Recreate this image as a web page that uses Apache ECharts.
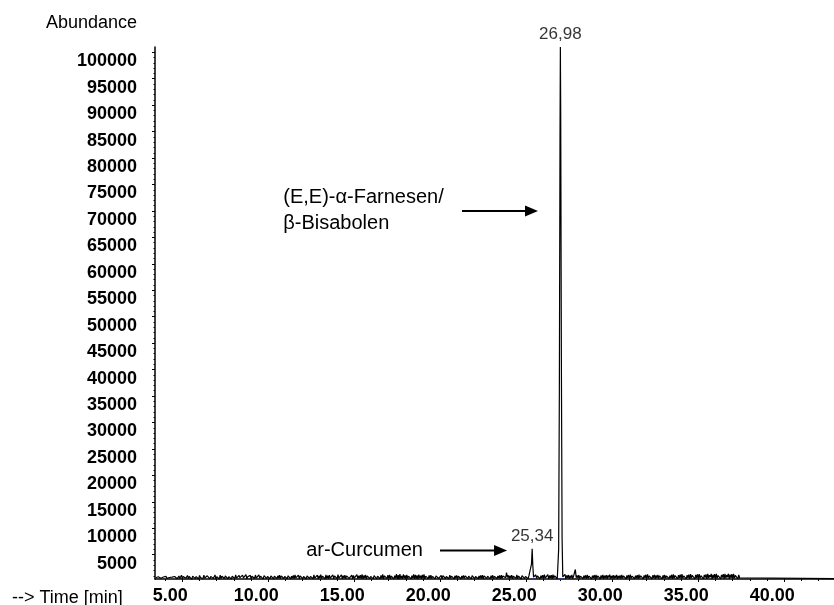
<!DOCTYPE html>
<html>
<head>
<meta charset="utf-8">
<script src="https://cdn.jsdelivr.net/npm/echarts@6/dist/echarts.min.js"></script>
<style>
  html, body { margin: 0; padding: 0; background: #ffffff; }
  #chart { width: 834px; height: 605px; }
</style>
</head>
<body>
<div id="chart"></div>
<script>
// ---- Chromatogram data (time in min, abundance in counts) ----
const xTickValues = [5, 10, 15, 20, 25, 30, 35, 40];
const yTickValues = [5000, 10000, 15000, 20000, 25000, 30000, 35000, 40000, 45000, 50000,
                     55000, 60000, 65000, 70000, 75000, 80000, 85000, 90000, 95000, 100000];

// Baseline detector noise, sampled every 0.05 min from 3.45 min
const noiseStart = 3.45;
const noiseStep = 0.05;
const noiseValues = [
  640, 760, 580, 820, 600, 700, 540, 860, 620, 780, 560, 720, 900, 520, 800, 610, 680, 880, 550, 760,
  980, 480, 880, 600, 1060, 450, 820, 960, 500, 740, 1120, 420, 860, 640, 1020, 520, 780, 1060, 460, 900,
  580, 1100, 340, 940, 700, 1160, 480, 860, 620, 1020, 400, 1080, 680, 540, 980, 460, 1140, 600, 820, 490,
  1000, 660, 1080, 430, 900, 570, 1050, 500, 780, 1160, 360, 860, 660, 990, 390, 1110, 540, 930, 620, 1040,
  500, 970, 680, 1190, 440, 850, 580, 1080, 410, 920, 700, 1030, 480, 1170, 560, 800, 340, 1060, 650, 940,
  460, 1120, 600, 890, 510, 1210, 420, 830, 1000, 540, 1090, 400, 920, 680, 1040, 490, 1150, 580, 870, 450,
  1180, 520, 940, 640, 1100, 390, 1020, 700, 1180, 480, 860, 570, 1070, 440, 980, 660, 1220, 410, 910, 590,
  1240, 470, 1000, 560, 1140, 430, 960, 620, 1200, 500, 880, 600, 1090, 450, 1010, 680, 1150, 420, 940, 560,
  1060, 480, 1180, 600, 890, 520, 1130, 430, 990, 650, 1210, 460, 870, 590, 1100, 410, 960, 700, 1160, 500,
  900, 620, 1070, 440, 1190, 560, 850, 680, 1130, 410, 1000, 590, 1220, 470, 930, 640, 1080, 430, 1170, 540,
  1020, 460, 1140, 580, 880, 700, 1190, 420, 970, 610, 1100, 480, 1230, 550, 900, 670, 1160, 430, 1040, 590,
  1110, 440, 980, 650, 1200, 510, 880, 600, 1150, 420, 1060, 570, 940, 690, 1210, 450, 1000, 560, 1130, 480,
  1260, 420, 1050, 620, 1180, 390, 990, 700, 1240, 460, 900, 560, 1150, 430, 1020, 650, 1290, 400, 950, 580,
  1300, 440, 1080, 520, 1260, 380, 1010, 640, 1220, 460, 1120, 510, 1190, 420, 960, 700, 1270, 410, 1040, 560,
  1340, 400, 1150, 360, 1310, 520, 1000, 420, 1250, 600, 1090, 440, 1200, 500, 940, 700, 1130, 420, 1020, 560,
  1290, 430, 1170, 500, 1080, 380, 1230, 610, 1010, 450, 1160, 540, 1260, 410, 950, 680, 1190, 460, 1070, 520,
  1130, 470, 900, 620, 1060, 410, 980, 680, 1200, 490, 850, 590, 1100, 430, 1010, 660, 1160, 500, 880, 600,
  1050, 460, 1140, 550, 930, 670, 1180, 420, 1000, 590, 1090, 480, 910, 720, 1210, 440, 960, 560, 1070, 510,
  990, 630, 1130, 460, 920, 580, 1090, 430, 1010, 690, 1170, 480, 870, 610, 1110, 450, 960, 540, 1060, 500,
  1120, 450, 990, 620, 1080, 480, 940, 690, 1200, 420, 1010, 570, 1100, 460, 900, 670, 1170, 500, 980, 580,
  1060, 440, 1120, 560, 950, 640, 1180, 450, 880, 700, 1090, 490, 1010, 590, 1140, 420, 930, 660, 1070, 510,
  1190, 470, 960, 610, 1110, 400, 1040, 680, 1220, 480, 900, 570, 1080, 440, 990, 700, 1150, 500, 920, 620,
  1080, 450, 1200, 540, 970, 660, 1260, 430, 1030, 590, 1130, 490, 1210, 560, 920, 710, 1240, 440, 1050, 600,
  1120, 420, 1230, 570, 1000, 690, 1270, 450, 1070, 620, 1190, 500, 1250, 540, 960, 730, 1280, 410, 1090, 640,
  1150, 430, 1040, 600, 1170, 470, 990, 650, 1220, 440, 1080, 560, 1130, 490, 950, 680, 1190, 460, 1010, 580,
  1100, 480, 1160, 540, 930, 700, 1210, 430, 1040, 610, 1140, 470, 1200, 520, 980, 660, 1150, 450, 1070, 560,
  1180, 440, 1020, 630, 1130, 410, 1070, 690, 1240, 470, 960, 580, 1110, 500, 1030, 640, 1170, 430, 990, 600,
  1090, 460, 1190, 550, 980, 670, 1230, 420, 1060, 600, 1150, 480, 1220, 530, 940, 690, 1250, 450, 1040, 570,
  1130, 420, 1210, 580, 1010, 700, 1280, 440, 1080, 630, 1200, 490, 1260, 550, 970, 720, 1290, 420, 1100, 620,
  1160, 450, 1060, 610, 1190, 480, 1010, 660, 1240, 430, 1100, 570, 1150, 500, 960, 690, 1210, 470, 1030, 590,
  1200, 440, 1270, 560, 1050, 700, 1300, 410, 1120, 620, 1230, 470, 1310, 540, 1000, 740, 1320, 430, 1130, 640,
  1240, 430, 1330, 580, 1090, 720, 1350, 400, 1170, 640, 1280, 460, 1340, 520, 1040, 760, 1360, 420, 1160, 650,
  1290, 410, 1370, 560, 1120, 740, 1380, 390, 1200, 620, 1310, 450, 1390, 530, 1060, 770, 1400, 410, 1190, 660,
  1310, 420, 1360, 570, 1140, 730, 1390, 400, 1220, 630, 1330, 460, 1370, 540, 1080, 750, 1340, 430, 1180, 640
];
// Flat signal after the noisy section
const tailTimes = [37.45, 42.89];
const tailValues = [480, 480];

// Peaks
const spikeTimes = [23.80, 23.85, 23.90];
const spikeValues = [650, 1630, 700];
const curcumenTimes = [25.26, 25.30, 25.34, 25.38, 25.42];
const curcumenValues = [700, 3200, 6100, 2800, 750];
const farnesenTimes = [26.84, 26.88, 26.92, 26.96, 26.98, 27.00, 27.04, 27.08, 27.12];
const farnesenValues = [700, 6000, 35000, 85000, 101000, 88000, 40000, 8000, 800];
const minorPeakTimes = [27.80, 27.85, 27.90];
const minorPeakValues = [700, 2200, 650];

// Apex labels (retention time)
const labelledPeakTimes = [25.34, 26.98];
const labelledPeakValues = [6100, 101000];

// Integration baselines under the labelled peaks
const integrationStarts = [25.28, 26.87];
const integrationEnds = [25.40, 27.09];
const integrationLevel = 450;

// ---- Build the trace ----
const peakGroups = [
  [spikeTimes, spikeValues],
  [curcumenTimes, curcumenValues],
  [farnesenTimes, farnesenValues],
  [minorPeakTimes, minorPeakValues]
];
const trace = [];
noiseValues.forEach((v, i) => {
  const t = +(noiseStart + i * noiseStep).toFixed(3);
  const inPeak = peakGroups.some(([ts]) => t >= ts[0] && t <= ts[ts.length - 1]);
  if (!inPeak) trace.push([t, v]);
});
peakGroups.forEach(([ts, vs]) => ts.forEach((t, i) => trace.push([t, vs[i]])));
tailTimes.forEach((t, i) => trace.push([t, tailValues[i]]));
trace.sort((a, b) => a[0] - b[0]);

// ---- Chart ----
const FONT = '"Liberation Sans", Arial, sans-serif';
const X_MIN = 3.41, X_MAX = 42.89;
const Y_MIN = 400, Y_MAX = 101000;

const xMinor = [];
for (let t = 4; t <= 42; t++) xMinor.push(t);
const yMinor = [];
for (let v = 1000; v <= 100000; v += 1000) yMinor.push(v);

const chart = echarts.init(document.getElementById('chart'), null, { renderer: 'canvas' });

chart.setOption({
  animation: false,
  backgroundColor: '#ffffff',
  grid: { left: 155, right: 0, top: 47, bottom: 25.5, containLabel: false },
  xAxis: [
    {
      type: 'value', min: X_MIN, max: X_MAX, position: 'bottom',
      axisLine: { show: true, onZero: false, lineStyle: { color: '#000', width: 1.5 } },
      axisTick: { show: true, customValues: xTickValues, length: 3, lineStyle: { color: '#000', width: 1 } },
      axisLabel: {
        show: true, customValues: xTickValues, color: '#000', fontFamily: FONT, fontSize: 18,
        fontWeight: 'bold', margin: 8, padding: [0, 24, 0, 0],
        formatter: v => v.toFixed(2)
      },
      splitLine: { show: false }
    },
    {
      type: 'value', min: X_MIN, max: X_MAX, position: 'bottom',
      axisLine: { show: false },
      axisTick: { show: true, customValues: xMinor, length: 2, lineStyle: { color: '#000', width: 1 } },
      axisLabel: { show: false },
      splitLine: { show: false }
    }
  ],
  yAxis: [
    {
      type: 'value', min: Y_MIN, max: Y_MAX, position: 'left',
      axisLine: { show: true, onZero: false, lineStyle: { color: '#000', width: 1.5 } },
      axisTick: { show: true, customValues: yTickValues, length: 3, lineStyle: { color: '#000', width: 1 } },
      axisLabel: {
        show: true, customValues: yTickValues, color: '#000', fontFamily: FONT, fontSize: 18,
        fontWeight: 'bold', margin: 18, verticalAlign: 'top', lineHeight: 18,
        formatter: v => String(v)
      },
      splitLine: { show: false }
    },
    {
      type: 'value', min: Y_MIN, max: Y_MAX, position: 'left',
      axisLine: { show: false },
      axisTick: { show: true, customValues: yMinor, length: 1.5, lineStyle: { color: '#000', width: 1 } },
      axisLabel: { show: false },
      splitLine: { show: false }
    }
  ],
  series: [
    {
      type: 'line',
      data: trace,
      showSymbol: false,
      clip: false,
      lineStyle: { color: '#000', width: 1.2 },
      z: 3,
      markLine: {
        silent: true,
        symbol: ['none', 'none'],
        label: { show: false },
        lineStyle: { color: '#2233cc', width: 1.5, type: 'solid' },
        data: integrationStarts.map((s, i) => [
          { coord: [s, integrationLevel] },
          { coord: [integrationEnds[i], integrationLevel] }
        ])
      }
    },
    {
      type: 'scatter',
      data: labelledPeakTimes.map((t, i) => [t, labelledPeakValues[i]]),
      symbolSize: 0,
      silent: true,
      label: {
        show: true, position: 'top', distance: 4,
        color: '#000', fontFamily: FONT, fontSize: 17,
        formatter: p => p.value[0].toFixed(2).replace('.', ',')
      },
      z: 4
    }
  ]
});

// ---- Compound annotations with arrows (anchored in data coordinates) ----
const annotations = [
  { text: '(E,E)-α-Farnesen/\nβ-Bisabolen', textTime: 10.87, arrowFrom: 21.26, arrowTo: 25.68, level: 70000 },
  { text: 'ar-Curcumen', textTime: 12.2, arrowFrom: 19.98, arrowTo: 23.88, level: 5800 }
];

const toPx = (t, v) => chart.convertToPixel({ gridIndex: 0 }, [t, v]);
const graphics = [];
annotations.forEach(a => {
  const tp = toPx(a.textTime, a.level);
  const p1 = toPx(a.arrowFrom, a.level);
  const p2 = toPx(a.arrowTo, a.level);
  const headLen = 13, headHalf = 5.5;
  graphics.push({
    type: 'text', x: tp[0], y: tp[1],
    style: {
      text: a.text, fill: '#000', font: '20px ' + FONT,
      align: 'left', verticalAlign: 'middle', lineHeight: 26
    }
  });
  graphics.push({
    type: 'line',
    shape: { x1: p1[0], y1: p1[1], x2: p2[0] - headLen + 1, y2: p2[1] },
    style: { stroke: '#000', lineWidth: 2 }
  });
  graphics.push({
    type: 'polygon',
    shape: { points: [[p2[0], p2[1]], [p2[0] - headLen, p2[1] - headHalf], [p2[0] - headLen, p2[1] + headHalf]] },
    style: { fill: '#000' }
  });
});

// Axis titles
graphics.push({
  type: 'text', x: 137, y: 23,
  style: { text: 'Abundance', fill: '#000', font: '18px ' + FONT, align: 'right', verticalAlign: 'middle' }
});
graphics.push({
  type: 'text', x: 12, y: 598,
  style: { text: '--> Time [min]', fill: '#000', font: '18px ' + FONT, align: 'left', verticalAlign: 'middle' }
});

chart.setOption({ graphic: graphics });
</script>
</body>
</html>
